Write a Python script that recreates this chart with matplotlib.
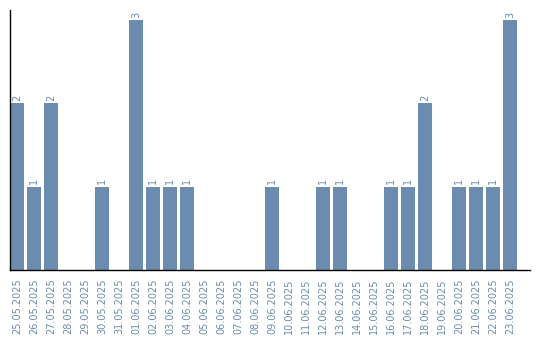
import matplotlib
matplotlib.use("Agg")
import matplotlib.pyplot as plt
import numpy as np

dates = ["25.05.2025", "26.05.2025", "27.05.2025", "28.05.2025", "29.05.2025",
         "30.05.2025", "31.05.2025", "01.06.2025", "02.06.2025", "03.06.2025",
         "04.06.2025", "05.06.2025", "06.06.2025", "07.06.2025", "08.06.2025",
         "09.06.2025", "10.06.2025", "11.06.2025", "12.06.2025", "13.06.2025",
         "14.06.2025", "15.06.2025", "16.06.2025", "17.06.2025", "18.06.2025",
         "19.06.2025", "20.06.2025", "21.06.2025", "22.06.2025", "23.06.2025"]
counts = [2, 1, 2, 0, 0, 1, 0, 3, 1, 1, 1, 0, 0, 0, 0,
          1, 0, 0, 1, 1, 0, 0, 1, 1, 2, 0, 1, 1, 1, 3]

bar_color = "#6b8cae"
text_color = "#6b8cae"

fig = plt.figure(figsize=(5.4, 3.4), dpi=100)
ax = fig.add_axes([10/540, 1-270/340, 520/540, 260/340])

x = np.arange(len(dates))
bars = ax.bar(x, counts, width=14/17, color=bar_color)

for xi, v in zip(x, counts):
    if v > 0:
        ax.text(xi, v + 0.03, str(v), rotation=90, ha="center", va="bottom",
                fontsize=7, color=text_color)

ax.set_xlim(-0.5 + 1.5/17, 30.18)
ax.set_ylim(0, 3.12)
ax.set_xticks(x)
ax.set_xticklabels(dates, rotation=90, fontsize=7, color=text_color)
ax.tick_params(axis="x", length=0, pad=6)
ax.set_yticks([])
for s in ["top", "right"]:
    ax.spines[s].set_visible(False)
ax.spines["left"].set_color("black")
ax.spines["bottom"].set_color("black")
ax.spines["left"].set_linewidth(1)
ax.spines["bottom"].set_linewidth(1)

fig.savefig("out.png", dpi=100)
